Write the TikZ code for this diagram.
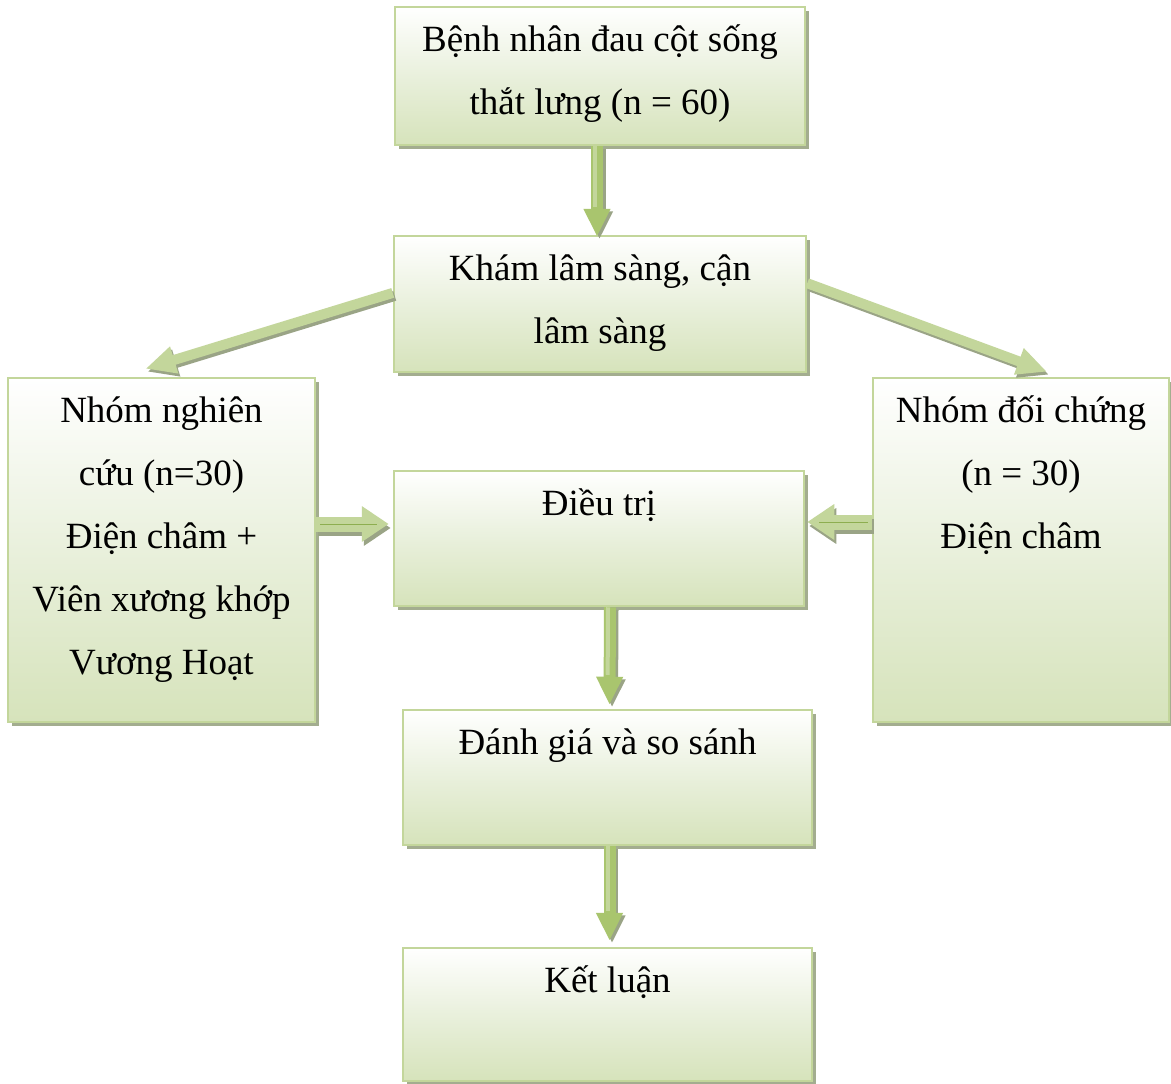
\documentclass[tikz,border=0pt]{standalone}
\usepackage{fontspec}
\setmainfont{Liberation Serif}
\usetikzlibrary{arrows.meta,calc}
\definecolor{boxline}{HTML}{C3D69B}
\definecolor{boxbot}{HTML}{D6E3BB}
\definecolor{boxmid}{HTML}{E9F0DC}
\definecolor{boxshadow}{HTML}{A3AD8F}
\definecolor{arrlight}{HTML}{C3D69B}
\definecolor{arrmid}{HTML}{A9C56E}
\definecolor{arrdark}{HTML}{8DAE4F}
\definecolor{arrshadow}{HTML}{9AA486}
\tikzset{
  flowbox/.style={draw=boxline, line width=2.5pt, inner sep=0pt,
    top color=white, bottom color=boxbot, middle color=boxmid},
  boxtext/.style={anchor=north, inner sep=0pt, align=center,
    font=\fontsize{37}{63}\selectfont},
  vshadow/.style={draw=arrshadow, line width=12pt,
    -{Triangle[length=28pt,width=25pt]},
    transform canvas={xshift=2.5pt,yshift=-2.5pt}},
  varrow/.style={draw=arrmid, line width=12pt,
    -{Triangle[length=28pt,width=25pt]}},
  dshadow/.style={draw=arrshadow, line width=10pt,
    -{Triangle[length=30pt,width=26pt]},
    transform canvas={xshift=2pt,yshift=-3pt}},
  darrow/.style={draw=arrlight, line width=10pt,
    -{Triangle[length=30pt,width=26pt]}},
  hshadow/.style={draw=arrshadow, line width=15pt,
    -{Triangle[length=27pt,width=34pt]},
    transform canvas={xshift=2pt,yshift=-4pt}},
  harrow/.style={draw=arrlight, line width=15pt,
    -{Triangle[length=27pt,width=34pt]}},
}
\newcommand{\mybox}[5]{%
  \fill[boxshadow] (#2-#4/2+4,#3-#5/2+4) rectangle (#2+#4/2+4,#3+#5/2+4);
  \node[flowbox, minimum width=#4pt, minimum height=#5pt] (#1) at (#2,#3) {};
}
\begin{document}
\begin{tikzpicture}[x=1pt,y=-1pt]
\useasboundingbox (0,0) rectangle (1171,1084);
\fill[white] (0,0) rectangle (1171,1084);

% boxes
\mybox{b1}{600}{76}{410}{138}
\mybox{b2}{600}{304}{412}{136}
\mybox{L}{161.5}{550}{307}{344}
\mybox{R}{1021}{550}{296}{344}
\mybox{D}{599}{538.5}{410}{135}
\mybox{E}{607.5}{777.5}{409}{135}
\mybox{K}{607.5}{1014.5}{409}{133}

% texts
\node[boxtext] (t1) at ([yshift=-6pt]b1.north) {\rule{0pt}{40pt}Bệnh nhân đau cột sống\\thắt lưng (n = 60)};
\node[boxtext] (t2) at ([yshift=-6pt]b2.north) {\rule{0pt}{40pt}Khám lâm sàng, cận\\lâm sàng};
\node[boxtext] (tL) at ([yshift=-6pt]L.north) {\rule{0pt}{40pt}Nhóm nghiên\\cứu (n=30)\\Điện châm +\\Viên xương khớp\\Vương Hoạt};
\node[boxtext] (tR) at ([yshift=-6pt]R.north) {\rule{0pt}{40pt}Nhóm đối chứng\\(n = 30)\\Điện châm};
\node[boxtext] (tD) at ([yshift=-6pt]D.north) {\rule{0pt}{40pt}Điều trị};
\node[boxtext] (tE) at ([yshift=-6pt]E.north) {\rule{0pt}{40pt}Đánh giá và so sánh};
\node[boxtext] (tK) at ([yshift=-6pt]K.north) {\rule{0pt}{40pt}Kết luận};

% connection points
\coordinate (b2l) at ($(b2.north west)!0.42!(b2.south west)$);
\coordinate (b2r) at ($(b2.north east)!0.35!(b2.south east)$);
\coordinate (Ltip) at ([xshift=-16pt,yshift=8pt]L.north);
\coordinate (Rtip) at ([xshift=26pt,yshift=5pt]R.north);
\coordinate (b1s) at ([xshift=-3pt]b1.south);
\coordinate (b2n) at ([xshift=-3pt,yshift=-2pt]b2.north);
\coordinate (Le) at ([yshift=26pt]L.east);
\coordinate (Dw) at ([xshift=-4pt,yshift=14.5pt]D.west);
\coordinate (Re) at ([yshift=28pt]R.west);
\coordinate (De) at ([xshift=2pt,yshift=16.5pt]D.east);
\coordinate (Ds) at ([xshift=11pt]D.south);
\coordinate (En) at ([xshift=2pt,yshift=4pt]E.north);
\coordinate (Es) at ([xshift=2pt]E.south);
\coordinate (Kn) at ([xshift=2pt,yshift=6pt]K.north);

% shadows of arrows
\draw[vshadow] (b1s) -- (b2n);
\draw[dshadow] (b2l) -- (Ltip);
\draw[dshadow] (b2r) -- (Rtip);
\draw[hshadow] (Le) -- (Dw);
\draw[hshadow] (Re) -- (De);
\draw[vshadow] (Ds) -- (En);
\draw[vshadow] (Es) -- (Kn);

% arrows
\draw[varrow] (b1s) -- (b2n);
\draw[darrow] (b2l) -- (Ltip);
\draw[darrow] (b2r) -- (Rtip);
\draw[harrow] (Le) -- (Dw);
\draw[harrow] (Re) -- (De);
\draw[varrow] (Ds) -- (En);
\draw[varrow] (Es) -- (Kn);

% highlights
\draw[draw=arrlight, line width=4pt, shorten >=30pt, transform canvas={xshift=-2pt}] (b1s) -- (b2n);
\draw[draw=arrlight, line width=4pt, shorten >=30pt, transform canvas={xshift=-2pt}] (Ds) -- (En);
\draw[draw=arrlight, line width=4pt, shorten >=30pt, transform canvas={xshift=-2pt}] (Es) -- (Kn);
\draw[draw=arrdark, line width=0.8pt, shorten <=4pt, shorten >=12pt] (Le) -- (Dw);
\draw[draw=arrdark, line width=0.8pt, shorten <=4pt, shorten >=12pt] (Re) -- (De);
\end{tikzpicture}
\end{document}
